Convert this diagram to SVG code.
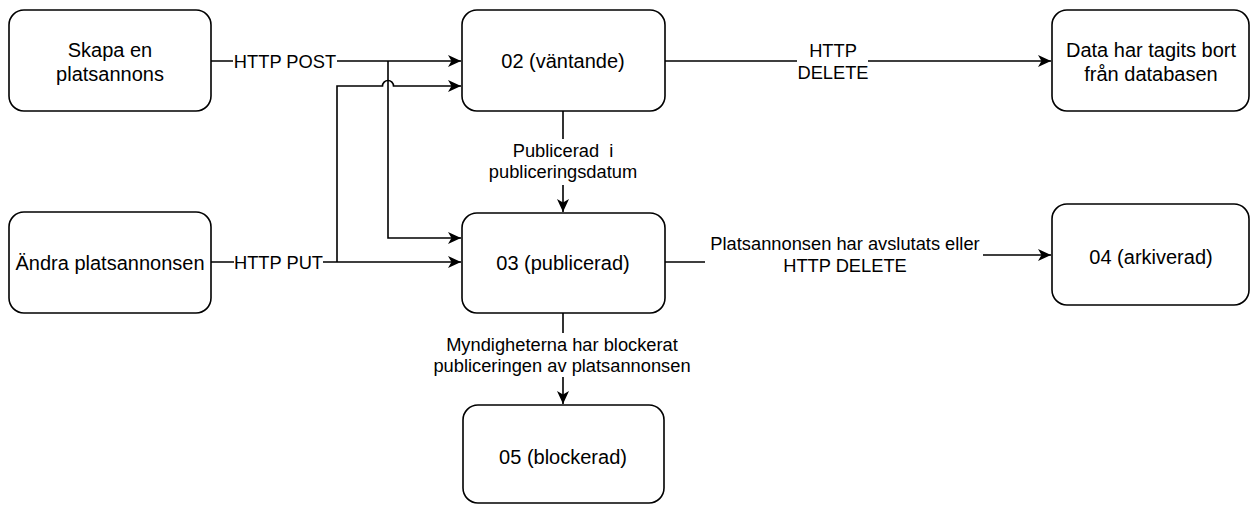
<svg xmlns="http://www.w3.org/2000/svg" width="1251" height="505" viewBox="0 0 1251 505">
  <style>
    .node rect { fill: #ffffff; stroke: #000000; stroke-width: 1.6; }
    .node text { font-family: "Liberation Sans", Arial, Helvetica, sans-serif; font-size: 20px; fill: #000000; text-anchor: middle; }
    .edge { fill: none; stroke: #000000; stroke-width: 1.6; }
    .lbl { font-family: "Liberation Sans", Arial, Helvetica, sans-serif; font-size: 18.3px; fill: #000000; text-anchor: middle; }
  </style>
  <defs>
    <marker id="arrow" markerUnits="userSpaceOnUse" markerWidth="14" markerHeight="13" refX="13" refY="6.5" orient="auto">
      <path d="M0,0.5 L13,6.5 L0,12.5 L3.5,6.5 Z" fill="#000000"/>
    </marker>
  </defs>
  <rect x="0" y="0" width="1251" height="505" fill="#ffffff"/>

  <g id="connectors">
    <path class="edge" d="M211,61 H233 M337,61 H461" marker-end="url(#arrow)"/>
    <path class="edge" d="M388,61 V238 H461" marker-end="url(#arrow)"/>
    <path class="edge" d="M211,262 H234 M323,262 H461" marker-end="url(#arrow)"/>
    <path class="edge" d="M337,262 V86 H382.5 A5.5,5.5 0 0 1 393.5,86 H461" marker-end="url(#arrow)"/>
    <path class="edge" d="M563,111 V139 M563,185 V212" marker-end="url(#arrow)"/>
    <path class="edge" d="M665,61 H797 M868,61 H1051" marker-end="url(#arrow)"/>
    <path class="edge" d="M665,262 H705 M983,255 H1051" marker-end="url(#arrow)"/>
    <path class="edge" d="M563,313 V333 M563,377 V404" marker-end="url(#arrow)"/>
    <text class="lbl" x="285" y="67.5">HTTP POST</text>
    <text class="lbl" x="278.5" y="268.5">HTTP PUT</text>
    <text class="lbl" x="833" y="57">HTTP</text>
    <text class="lbl" x="833" y="79">DELETE</text>
    <text class="lbl" x="563" y="157" xml:space="preserve">Publicerad  i</text>
    <text class="lbl" x="563" y="178">publiceringsdatum</text>
    <text class="lbl" x="845" y="250">Platsannonsen har avslutats eller</text>
    <text class="lbl" x="845" y="272">HTTP DELETE</text>
    <text class="lbl" x="562" y="351">Myndigheterna har blockerat</text>
    <text class="lbl" x="562" y="372">publiceringen av platsannonsen</text>
  </g>

  <g id="node-skapa" class="node">
    <rect x="9" y="10" width="202" height="101" rx="15" ry="15"/>
    <text x="110" y="57">Skapa en</text>
    <text x="110" y="81">platsannons</text>
  </g>
  <g id="node-02" class="node">
    <rect x="462" y="10" width="203" height="101" rx="15" ry="15"/>
    <text x="563" y="68">02 (väntande)</text>
  </g>
  <g id="node-data" class="node">
    <rect x="1052" y="10" width="197" height="101" rx="15" ry="15"/>
    <text x="1151" y="57">Data har tagits bort</text>
    <text x="1151" y="81">från databasen</text>
  </g>
  <g id="node-andra" class="node">
    <rect x="9" y="212" width="202" height="101" rx="15" ry="15"/>
    <text x="110" y="270">Ändra platsannonsen</text>
  </g>
  <g id="node-03" class="node">
    <rect x="462" y="213" width="203" height="100" rx="15" ry="15"/>
    <text x="563" y="270">03 (publicerad)</text>
  </g>
  <g id="node-04" class="node">
    <rect x="1052" y="204" width="197" height="101" rx="15" ry="15"/>
    <text x="1151" y="264">04 (arkiverad)</text>
  </g>
  <g id="node-05" class="node">
    <rect x="463" y="405" width="201" height="98" rx="15" ry="15"/>
    <text x="563" y="464">05 (blockerad)</text>
  </g>
</svg>
